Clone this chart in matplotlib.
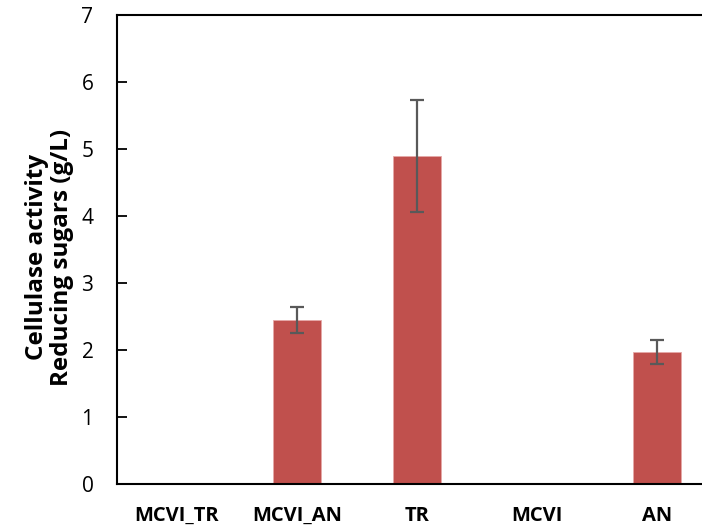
import matplotlib.pyplot as plt

categories = ["MCVI_TR", "MCVI_AN", "TR", "MCVI", "AN"]
values = [0, 2.45, 4.90, 0, 1.97]
errors = [0, 0.195, 0.835, 0, 0.18]

plt.rcParams['font.family'] = ['Open Sans', 'DejaVu Sans']

fig = plt.figure(figsize=(7.02, 5.28), dpi=100)
# axes runs past the right edge of the picture, as in the original
ax = fig.add_axes([117 / 702, 1 - 484 / 528, 600 / 702, 469 / 528])

x = range(len(categories))
ax.bar(x, values, width=0.4, color='#C0504D', edgecolor='#E6A9A8', linewidth=0.6)
for xi, v, e in zip(x, values, errors):
    if e > 0:
        ax.errorbar(xi, v, yerr=e, fmt='none', ecolor='#595959', elinewidth=1.6,
                    capsize=5, capthick=1.6)

ax.set_xlim(-0.5, len(categories) - 0.5)
ax.set_ylim(0, 7)
ax.set_yticks(range(8))
ax.set_xticks(list(x))
ax.set_xticklabels(categories, fontsize=14.5, fontweight='bold')
ax.tick_params(axis='x', length=0, pad=16)
ax.tick_params(axis='y', direction='in', length=7, width=1.3, labelsize=15, pad=17)
for s in ['left', 'bottom', 'top']:
    ax.spines[s].set_linewidth(1.5)
ax.spines['right'].set_visible(False)

ax.set_ylabel("Cellulase activity\nReducing sugars (g/L)", fontsize=17.5,
              fontweight='bold', linespacing=1.05)
ax.yaxis.set_label_coords(-43 / 600, 0.484)

fig.savefig("out.png", dpi=100)
